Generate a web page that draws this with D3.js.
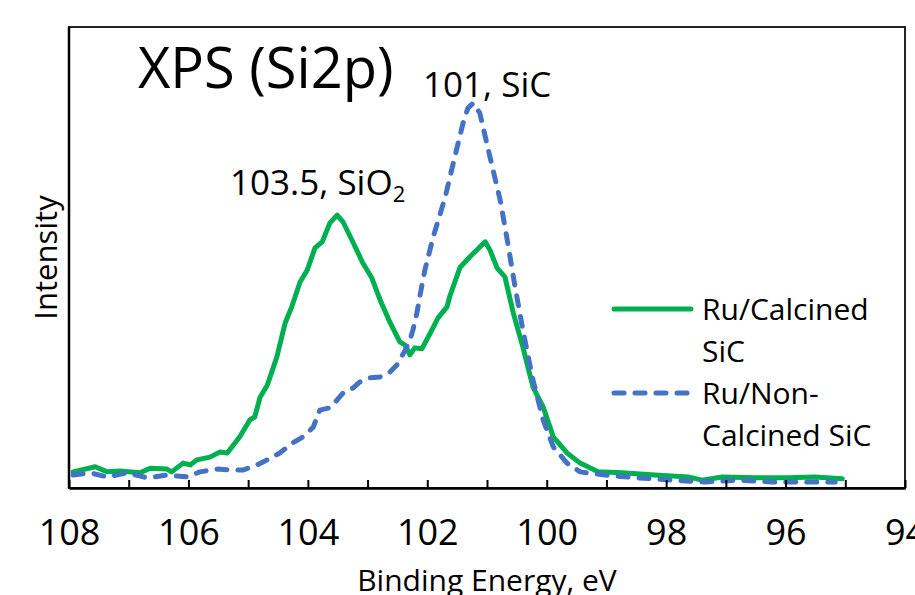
<!DOCTYPE html>
<html>
<head>
<meta charset="utf-8">
<script src="https://cdn.jsdelivr.net/npm/d3@7"></script>
<style>
  body { margin: 0; background: #fff; }
  #chart { width: 915px; height: 595px; }
  text { font-family: "Open Sans", sans-serif; fill: #000; }
</style>
</head>
<body>
<div id="chart"></div>
<script>
// Ru/Calcined SiC (green, solid)
var calcinedEV = [107.93, 107.56, 107.36, 107.15, 106.81, 106.64, 106.36, 106.28, 106.09, 105.97,
    105.86, 105.64, 105.47, 105.35, 105.14, 104.97, 104.89, 104.80, 104.68, 104.52,
    104.38, 104.27, 104.13, 104.01, 103.88, 103.76, 103.63, 103.51, 103.41, 103.24,
    103.08, 102.93, 102.79, 102.62, 102.46, 102.37, 102.29, 102.21, 102.09, 101.95,
    101.82, 101.67, 101.62, 101.45, 101.29, 101.12, 101.03, 100.95, 100.83, 100.70,
    100.56, 100.40, 100.23, 100.06, 99.89, 99.66, 99.44, 99.14, 98.74, 98.19,
    97.63, 97.40, 97.06, 96.51, 95.96, 95.51, 95.05]
var calcinedInt = [3.5, 4.6, 3.5, 3.7, 3.3, 4.3, 4.1, 3.5, 5.4, 5.0,
    6.1, 6.7, 7.8, 7.6, 11.1, 14.8, 15.4, 19.7, 22.3, 28.4,
    35.8, 39.3, 44.7, 47.3, 52.1, 53.4, 57.5, 59.2, 57.7, 53.2,
    48.8, 45.6, 40.8, 35.8, 31.7, 31.0, 28.9, 30.4, 30.2, 33.6,
    36.9, 39.3, 41.7, 47.9, 50.1, 52.3, 53.4, 51.6, 47.7, 45.8,
    38.0, 30.6, 21.9, 17.6, 11.1, 7.6, 5.4, 3.5, 3.3, 2.8,
    2.4, 1.7, 2.4, 2.2, 2.2, 2.4, 2.0]

// Ru/Non-Calcined SiC (blue, dashed)
var nonCalcinedEV = [107.93, 107.65, 107.36, 107.03, 106.69, 106.36, 106.19, 106.02, 105.81, 105.52,
    105.25, 105.09, 104.85, 104.68, 104.47, 104.25, 104.08, 103.91, 103.80, 103.63,
    103.51, 103.41, 103.24, 103.13, 102.96, 102.79, 102.62, 102.51, 102.37, 102.29,
    102.24, 102.17, 102.12, 102.04, 101.90, 101.70, 101.54, 101.40, 101.32, 101.23,
    101.12, 100.95, 100.78, 100.67, 100.53, 100.40, 100.23, 100.06, 99.89, 99.66,
    99.44, 99.02, 98.47, 97.90, 97.35, 96.80, 96.23, 95.67, 95.17]
var nonCalcinedInt = [2.8, 3.3, 2.4, 3.3, 2.2, 2.8, 2.6, 2.4, 3.5, 4.1,
    3.9, 3.9, 5.0, 6.1, 7.6, 9.8, 11.1, 13.2, 16.9, 17.4,
    19.1, 20.6, 21.7, 23.0, 23.9, 24.1, 25.2, 26.7, 29.9, 32.1,
    34.3, 38.2, 41.9, 47.3, 54.5, 63.1, 71.8, 79.2, 82.4, 83.5,
    81.3, 71.8, 62.5, 54.5, 43.6, 34.3, 23.4, 14.8, 8.9, 5.4,
    3.5, 2.8, 2.2, 1.7, 1.3, 1.7, 1.3, 1.3, 1.3]

var xTicks = d3.range(108, 93, -1)
var xLabels = [108, 106, 104, 102, 100, 98, 96, 94]
var seriesNames = [["Ru/Calcined", "SiC"], ["Ru/Non-", "Calcined SiC"]]
var peakLabels = [{ev: 103.5, text: "103.5, SiO", sub: "2"}, {ev: 101, text: "101, SiC", sub: ""}]

var width = 915, height = 595
var margin = {left: 69, top: 27, right: 10, bottom: 107}
var svg = d3.select("#chart").append("svg").attr("width", width).attr("height", height)

var x = d3.scaleLinear().domain([108, 94]).range([margin.left, width - margin.right])
var y = d3.scaleLinear().domain([0, 100]).range([height - margin.bottom, margin.top])

// frame
svg.append("rect")
    .attr("x", x(108)).attr("y", y(100))
    .attr("width", x(94) - x(108)).attr("height", y(0) - y(100))
    .style("fill", "none").style("stroke", "#222").style("stroke-width", 2)

var greenData = calcinedEV.map((e, i) => [e, calcinedInt[i]])
var blueData = nonCalcinedEV.map((e, i) => [e, nonCalcinedInt[i]])
var line = d3.line().x(d => x(d[0])).y(d => y(d[1]))

svg.append("path").datum(greenData).attr("d", line)
    .style("fill", "none").style("stroke", "#00B050").style("stroke-width", 5)
    .style("stroke-linejoin", "round").style("stroke-linecap", "round")

svg.append("path").datum(blueData).attr("d", line)
    .style("fill", "none").style("stroke", "#4472C4").style("stroke-width", 5)
    .style("stroke-dasharray", "10,11")
    .style("stroke-linejoin", "round").style("stroke-linecap", "round")

// x axis
var xAxis = d3.axisBottom(x).tickValues(xTicks).tickSizeInner(-8).tickSizeOuter(0).tickPadding(31)
    .tickFormat(d => xLabels.includes(d) ? d : "")
var gx = svg.append("g").attr("transform", "translate(0," + y(0) + ")").call(xAxis)
gx.select(".domain").style("stroke", "#000").style("stroke-width", 2.5)
gx.selectAll(".tick line").style("stroke", "#000").style("stroke-width", 2)
gx.selectAll(".tick text").style("font-size", "36px").style("font-family", "'Open Sans', sans-serif").style("fill", "#000")

// y axis (no ticks)
svg.append("line")
    .attr("x1", x(108)).attr("x2", x(108)).attr("y1", y(100)).attr("y2", y(0))
    .style("stroke", "#000").style("stroke-width", 2.5)

// axis titles
svg.append("text").attr("x", (x(108) + x(94)) / 2).attr("y", 591)
    .attr("text-anchor", "middle").style("font-size", "30px").text("Binding Energy, eV")

svg.append("text").attr("transform", "translate(57," + (y(0) + y(100)) / 2 + ") rotate(-90)")
    .attr("text-anchor", "middle").style("font-size", "31px").text("Intensity")

// title
svg.append("text").attr("x", 138).attr("y", 88).style("font-size", "56px").text("XPS (Si2p)")

// peak annotations
var peakPos = [{x: 230, y: 195}, {x: 423, y: 97}]
peakLabels.forEach((p, i) => {
    var t = svg.append("text").attr("x", peakPos[i].x).attr("y", peakPos[i].y).style("font-size", "35px")
    t.append("tspan").text(p.text)
    if (p.sub) t.append("tspan").attr("dy", 7).style("font-size", "22px").text(p.sub)
})

// legend
var legend = svg.append("g")
var legY = [309, 393]
var legStyles = [{c: "#00B050", dash: null}, {c: "#4472C4", dash: "10,11"}]
seriesNames.forEach((name, i) => {
    legend.append("line").attr("x1", 614).attr("x2", 691).attr("y1", legY[i]).attr("y2", legY[i])
        .style("stroke", legStyles[i].c).style("stroke-width", 5)
        .style("stroke-linecap", "round").style("stroke-dasharray", legStyles[i].dash)
    name.forEach((part, j) => {
        legend.append("text").attr("x", 702).attr("y", legY[i] + 11 + j * 42)
            .style("font-size", "30px").text(part)
    })
})
</script>
</body>
</html>
